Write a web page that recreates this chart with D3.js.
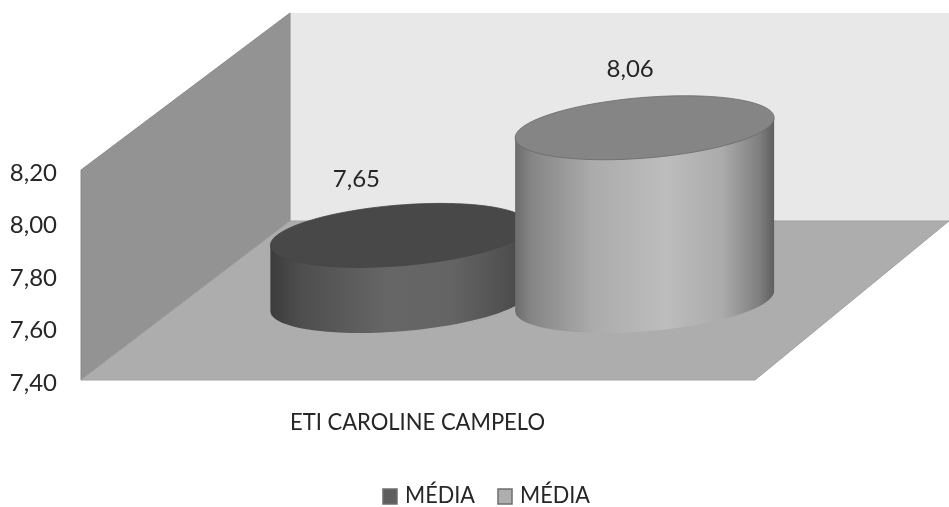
<!DOCTYPE html>
<html><head><meta charset="utf-8">
<script src="https://cdn.jsdelivr.net/npm/d3@7"></script>
<style>html,body{margin:0;padding:0;background:#fff}svg{display:block}text{font-family:Lato,"Open Sans",sans-serif;fill:#262626}</style>
</head><body><svg id="c" width="949" height="507"></svg>
<script>
const category = "ETI CAROLINE CAMPELO";
const seriesNames = ["MÉDIA", "MÉDIA"];
const seriesValues = [7.65, 8.06];
const tickValues = [7.4, 7.6, 7.8, 8.0, 8.2];
const bodyStops = [
  [[0,"#3c3c3c"],[0.12,"#4e4e4e"],[0.45,"#666666"],[0.7,"#646464"],[0.92,"#4f4f4f"],[1,"#444444"]],
  [[0,"#6c6c6c"],[0.06,"#858585"],[0.3,"#ababab"],[0.58,"#bdbdbd"],[0.8,"#ababab"],[0.94,"#808080"],[1,"#5f5f5f"]]
];
const topColors = ["#484848", "#858585"];
const swatchColors = ["#5e5e5e", "#aeaeae"];

const svg = d3.select("#c");
const fmt = d3.formatLocale({decimal:",",thousands:".",grouping:[3],currency:["",""]}).format(".2f");
const y = d3.scaleLinear().domain([7.4,8.2]).range([380,170]);
const frontX = 81, backX = 290, floorRightFront = 755, rightEdge = 949;
const depthY = 159;   // vertical shift between the front plane and the back wall
const line = d3.line();

const defs = svg.append("defs");
const blur = defs.append("filter").attr("id","soft").attr("x","-5%").attr("y","-5%").attr("width","110%").attr("height","110%");
blur.append("feGaussianBlur").attr("stdDeviation",0.35);
bodyStops.forEach((st,i)=>{
  const g = defs.append("linearGradient").attr("id","body"+i);
  st.forEach(s=>g.append("stop").attr("offset",s[0]).attr("stop-color",s[1]));
});

// walls
const yb = y(7.4), yt = y(8.2);
const wall = (pts,fill,stroke)=>svg.append("path").attr("d",line(pts)+"Z").attr("fill",fill).attr("stroke",stroke).attr("stroke-width",1);
wall([[backX,yt-depthY+2],[rightEdge,yt-depthY+2],[rightEdge,yb-depthY],[backX,yb-depthY]],"#e8e8e8","none");
wall([[frontX,yt],[backX,yt-depthY+2],[backX,yb-depthY],[frontX,yb]],"#939393","#8a8a8a");
wall([[frontX,yb],[backX,yb-depthY],[rightEdge,yb-depthY],[floorRightFront,yb]],"#adadad","#a2a2a2");

// axis
const axis = d3.axisLeft(y).tickValues(tickValues).tickFormat(fmt).tickSize(0).tickPadding(0);
const ag = svg.append("g").attr("transform","translate(57,0)").call(axis);
ag.select(".domain").remove();
ag.selectAll("text").style("font-size","24px").attr("dy","0.42em").attr("filter","url(#soft)");

// cylinders
const cxs = d3.scaleBand().domain([0,1]).range([277.5,767]).padding(0);
const a = 129.5, b = 30.4, k = 10, depth = 79;
const ell = t=>[a*Math.cos(t), b*Math.sin(t)-k*Math.cos(t)];
const ts = d3.range(0,361,4).map(d=>d*Math.PI/180);
seriesValues.forEach((v,i)=>{
  const cx = cxs(i)+cxs.bandwidth()/2;
  const ty = y(v)-depth, by = y(7.4)-depth;
  const lower = ts.filter(t=>t<=Math.PI+1e-6).map(ell).map(p=>[cx+p[0],by+p[1]]);
  const body = [...lower, ...[Math.PI,0].map(ell).map(p=>[cx+p[0],ty+p[1]])];
  svg.append("path").attr("d",line(body)+"Z").attr("fill",`url(#body${i})`);
  svg.append("path").attr("d",line(ts.map(ell).map(p=>[cx+p[0],ty+p[1]]))+"Z")
    .attr("fill",topColors[i]).attr("stroke",i? "#6a6a6a":"#454545").attr("stroke-width",0.8);
  const lx = i? cx-14.5 : cx-43.5;
  svg.append("text").attr("x",lx).attr("y",ty-(i?51:48)).attr("text-anchor","middle")
    .style("font-size","24px").attr("filter","url(#soft)").text(fmt(v));
});

// category label
svg.append("text").attr("x",417.5).attr("y",430).attr("text-anchor","middle")
  .style("font-size","24px").attr("textLength",255).attr("lengthAdjust","spacingAndGlyphs").attr("filter","url(#soft)").text(category);

// legend
const legendX = [382,497];
seriesNames.forEach((n,i)=>{
  svg.append("rect").attr("x",legendX[i]+1).attr("y",489).attr("width",14).attr("height",15)
    .attr("fill",swatchColors[i]).attr("stroke","#6e6e6e").attr("stroke-width",1.5);
  svg.append("text").attr("x",legendX[i]+23).attr("y",503).style("font-size","24px")
    .attr("textLength",70).attr("lengthAdjust","spacingAndGlyphs").attr("filter","url(#soft)").text(n);
});
</script></body></html>
